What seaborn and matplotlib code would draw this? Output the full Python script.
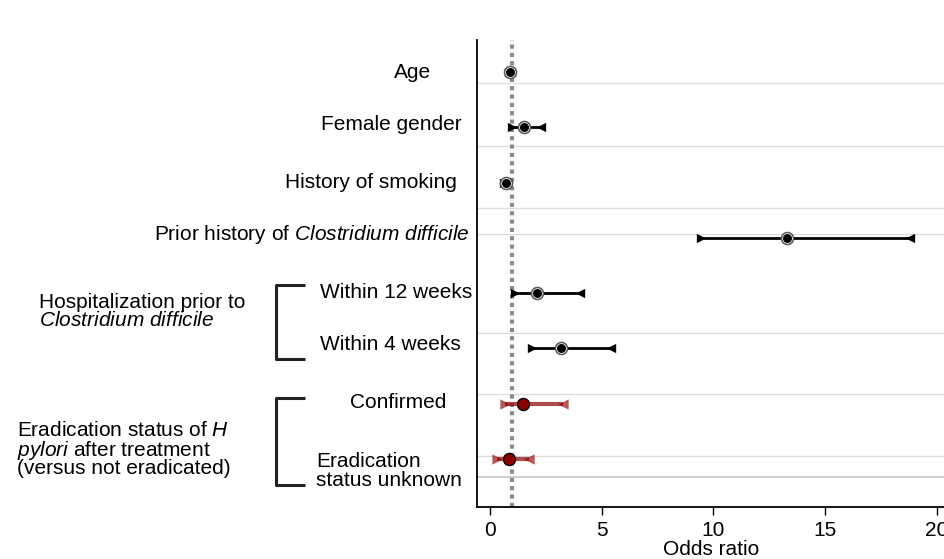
import matplotlib.pyplot as plt
import numpy as np
import pandas as pd
import seaborn as sns

# forest plot: odds ratios with 95% CI

labels = ["Age", "Female gender", "History of smoking",
          "Prior history of $\\mathit{Clostridium\\ difficile}$",
          "Within 12 weeks", "Within 4 weeks", "Confirmed",
          "Eradication\nstatus unknown"]
odds = [0.90, 1.52, 0.70, 13.3, 2.09, 3.16, 1.46, 0.85]
ci_low = [0.84, 1.00, 0.64, 9.43, 1.12, 1.90, 0.67, 0.33]
ci_high = [0.96, 2.30, 0.78, 18.8, 4.03, 5.40, 3.28, 1.76]
group = ["base", "base", "base", "base", "base", "base", "hp", "hp"]

df = pd.DataFrame({"label": labels, "odds": odds, "lo": ci_low, "hi": ci_high, "group": group})
df["row"] = np.arange(len(df))

sns.set_style("white")
plt.rcParams['font.family'] = ['Liberation Sans', 'DejaVu Sans']
plt.rcParams['mathtext.fontset'] = 'custom'
plt.rcParams['mathtext.rm'] = 'Liberation Sans'
plt.rcParams['mathtext.it'] = 'Liberation Sans:italic'
plt.rcParams['text.color'] = 'black'
plt.rcParams['xtick.color'] = 'black'
plt.rcParams['axes.labelcolor'] = 'black'

W, H = 945, 559
fig = plt.figure(figsize=(W / 100, H / 100), dpi=100)
ax = fig.add_axes([477 / W, 52 / H, (W - 477) / W, 467 / H])
ax.set_xlim(-0.58, 20.36)
ax.set_ylim(7.87, -0.58)

def px(x, y):
    return x / W, 1 - y / H

fs = 15
red = "#8b0000"

# light row separators
for g in [0.2, 1.34, 2.46, 2.93, 4.72, 5.82, 6.94]:
    ax.axhline(g, color="#dddddd", lw=1, zorder=0)
ax.axhline(7.32, color="#d0d0d0", lw=1.5, zorder=0)

# reference line at OR = 1
ax.axvline(1, color="#8a8a8a", lw=3, ls=(0, (1, 1)), zorder=1)

base = df[df["group"] == "base"]
hp = df[df["group"] == "hp"]

ax.hlines(base["row"], base["lo"], base["hi"], color="black", lw=2, zorder=2)
ax.hlines(hp["row"], hp["lo"], hp["hi"], color=red, lw=3, alpha=0.7, zorder=2)

sns.scatterplot(data=base, x="lo", y="row", marker=">", s=45, color="black", linewidth=0, ax=ax, zorder=3)
sns.scatterplot(data=base, x="hi", y="row", marker="<", s=45, color="black", linewidth=0, ax=ax, zorder=3)
sns.scatterplot(data=hp, x="lo", y="row", marker=">", s=55, color=red, alpha=0.65, linewidth=0, ax=ax, zorder=3)
sns.scatterplot(data=hp, x="hi", y="row", marker="<", s=55, color=red, alpha=0.65, linewidth=0, ax=ax, zorder=3)

# black points: black dot inside white ring with grey outline
sns.scatterplot(data=base, x="odds", y="row", s=75, color="white", edgecolor="#555555", linewidth=1.1, ax=ax, zorder=4)
sns.scatterplot(data=base, x="odds", y="row", s=42, color="black", linewidth=0, ax=ax, zorder=5)
sns.scatterplot(data=hp, x="odds", y="row", s=75, color=red, edgecolor="black", linewidth=1, ax=ax, zorder=5)

ax.set_xticks([0, 5, 10, 15, 20])
ax.set_yticks([])
ax.tick_params(axis="x", direction="out", length=6, width=1, labelsize=fs, pad=4, bottom=True)
ax.set_xlabel("Odds ratio", fontsize=fs, labelpad=0)
ax.set_ylabel("")
for s in ["top", "right"]:
    ax.spines[s].set_visible(False)
for s in ["left", "bottom"]:
    ax.spines[s].set_color("black")
    ax.spines[s].set_linewidth(1.3)

# row labels
label_x = [(431, "right"), (462, "right"), (457, "right"), (470, "right"),
           (320, "left"), (320, "left"), (350, "left"), (316, "left")]
label_y = [72, 124, 182, 234, 293, 345, 402, 471]
for t, (x, ha), y in zip(labels, label_x, label_y):
    fig.text(*px(x, y), t, ha=ha, va="center", fontsize=fs, linespacing=0.95)

# group labels
fig.text(*px(39, 302), "Hospitalization prior to", ha="left", va="center", fontsize=fs)
fig.text(*px(39, 320), "$\\mathit{Clostridium\\ difficile}$", ha="left", va="center", fontsize=fs)
fig.text(*px(17, 431), "Eradication status of $\\mathit{H}$", ha="left", va="center", fontsize=fs)
fig.text(*px(17, 450), "$\\mathit{pylori}$ after treatment", ha="left", va="center", fontsize=fs)
fig.text(*px(17, 469), "(versus not eradicated)", ha="left", va="center", fontsize=fs)

# brackets
for y0, y1 in [(285, 359), (398, 485)]:
    xs = [305, 276, 276, 305]
    ys = [y0, y0, y1, y1]
    fig.add_artist(plt.Line2D([x / W for x in xs], [1 - y / H for y in ys],
                              color="#222222", lw=2.2, solid_capstyle="butt"))

plt.savefig("out.png", dpi=100)
plt.close()
